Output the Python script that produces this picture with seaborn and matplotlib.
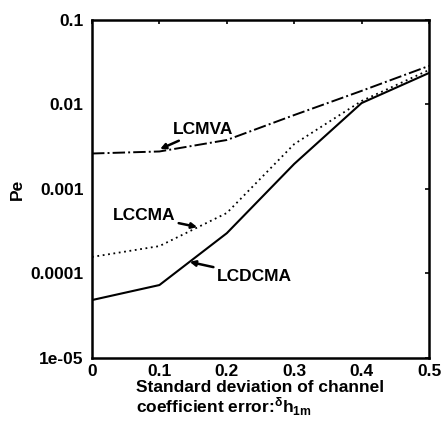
import matplotlib
matplotlib.use("Agg")
import matplotlib.pyplot as plt
import seaborn as sns
import numpy as np
import pandas as pd
from matplotlib.ticker import FixedLocator, FixedFormatter, NullLocator

# ---- data ----
x_vals = [0.0, 0.1, 0.2, 0.3, 0.4, 0.5]
lcmva = [0.00263, 0.00278, 0.0038, 0.0075, 0.0145, 0.0286]
lccma = [0.000157, 0.000211, 0.00052, 0.0034, 0.011, 0.0256]
lcdcma = [0.0000485, 0.000073, 0.0003, 0.00198, 0.0104, 0.0236]
x_ticks = [0, 0.1, 0.2, 0.3, 0.4, 0.5]
x_tick_labels = ["0", "0.1", "0.2", "0.3", "0.4", "0.5"]
y_ticks = [1e-5, 1e-4, 1e-3, 1e-2, 1e-1]
y_tick_labels = ["1e-05", "0.0001", "0.001", "0.01", "0.1"]

sns.set_theme(style="white")
plt.rcParams["font.family"] = ["Liberation Sans", "DejaVu Sans"]
plt.rcParams["font.weight"] = "bold"
plt.rcParams["text.color"] = "black"
plt.rcParams["axes.labelcolor"] = "black"
plt.rcParams["mathtext.fontset"] = "custom"
plt.rcParams["mathtext.rm"] = "Liberation Sans:bold"
plt.rcParams["mathtext.it"] = "Liberation Sans:bold"
plt.rcParams["mathtext.bf"] = "Liberation Sans:bold"

FS = 12.5

fig = plt.figure(figsize=(4.43, 4.29), dpi=100)
ax = fig.add_axes([0.2077, 0.1655, 0.7607, 0.7879])

sns.lineplot(x=x_vals, y=lcmva, ax=ax, color="black", linestyle="-.", linewidth=1.4)
sns.lineplot(x=x_vals, y=lccma, ax=ax, color="black", linestyle=(0, (1, 2)), linewidth=1.3)
sns.lineplot(x=x_vals, y=lcdcma, ax=ax, color="black", linestyle="-", linewidth=1.5)

ax.set_yscale("log")
ax.set_xlim(0, 0.5)
ax.set_ylim(1e-5, 0.1)
ax.xaxis.set_major_locator(FixedLocator(x_ticks))
ax.xaxis.set_major_formatter(FixedFormatter(x_tick_labels))
ax.yaxis.set_major_locator(FixedLocator(y_ticks))
ax.yaxis.set_major_formatter(FixedFormatter(y_tick_labels))
ax.yaxis.set_minor_locator(NullLocator())
ax.tick_params(axis="both", which="major", direction="in", length=3, width=1.2,
               top=True, right=True, labelsize=FS, colors="black")
ax.tick_params(axis="y", pad=6)
ax.tick_params(axis="x", pad=4)
for lab in ax.get_xticklabels() + ax.get_yticklabels():
    lab.set_fontweight("bold")
for s in ax.spines.values():
    s.set_linewidth(1.8)
    s.set_color("black")

ax.set_xlabel("Standard deviation of channel\ncoefficient error:" + r"$^{\delta}$h$_{\mathrm{1m}}$",
              fontsize=FS, fontweight="bold", multialignment="left", labelpad=1,
              linespacing=1.05, color="black")
ax.set_ylabel("Pe", fontsize=FS, fontweight="bold", labelpad=4, color="black")

arrow = dict(arrowstyle="-|>", color="black", lw=1.8, mutation_scale=8,
             shrinkA=0, shrinkB=0)
ax.annotate("LCMVA", xy=(0.101, 0.00297), xytext=(0.12, 0.005),
            fontsize=FS, fontweight="bold", ha="left", va="center",
            color="black", arrowprops=arrow)
ax.annotate("LCCMA", xy=(0.156, 0.000355), xytext=(0.031, 0.00048),
            fontsize=FS, fontweight="bold", ha="left", va="center",
            color="black", arrowprops=arrow)
ax.annotate("LCDCMA", xy=(0.145, 0.000137), xytext=(0.185, 0.0000933),
            fontsize=FS, fontweight="bold", ha="left", va="center",
            color="black", arrowprops=arrow)

fig.savefig("out.png", dpi=100)
